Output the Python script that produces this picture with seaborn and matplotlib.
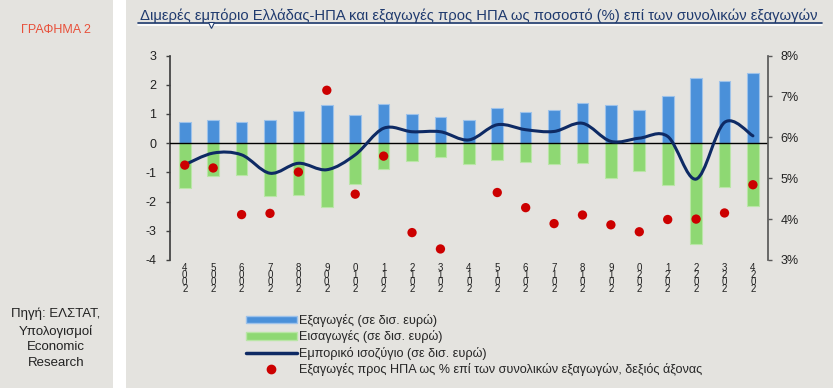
import numpy as np
import matplotlib.pyplot as plt
import seaborn as sns
from matplotlib.path import Path
from matplotlib.patches import PathPatch, Patch, Rectangle
from matplotlib.lines import Line2D

# data (δισ. ευρώ, % επί συνολικών εξαγωγών)
years = list(range(2004, 2025))
exports = [0.71, 0.78, 0.71, 0.80, 1.10, 1.29, 0.97, 1.35, 1.00, 0.90, 0.80,
           1.19, 1.08, 1.13, 1.38, 1.30, 1.13, 1.60, 2.22, 2.12, 2.39]
imports = [-1.54, -1.14, -1.10, -1.80, -1.76, -2.20, -1.39, -0.87, -0.61, -0.49, -0.70,
           -0.57, -0.63, -0.72, -0.68, -1.21, -0.97, -1.44, -3.44, -1.49, -2.16]
balance = [-0.74, -0.34, -0.40, -1.03, -0.69, -0.91, -0.40, 0.51, 0.39, 0.39, 0.11,
           0.63, 0.46, 0.40, 0.68, 0.06, 0.17, 0.23, -1.23, 0.71, 0.25]
us_share = [5.32, 5.25, 4.11, 4.14, 5.15, 7.15, 4.61, 5.54, 3.67, 3.27, np.nan,
            4.65, 4.28, 3.89, 4.10, 3.86, 3.69, 3.99, 4.00, 4.15, 4.84]

labels = ["Εξαγωγές (σε δισ. ευρώ)", "Εισαγωγές (σε δισ. ευρώ)",
          "Εμπορικό ισοζύγιο (σε δισ. ευρώ)",
          "Εξαγωγές προς ΗΠΑ ως % επί των συνολικών εξαγωγών, δεξιός άξονας"]
title = "Διμερές εμπόριο Ελλάδας-ΗΠΑ και εξαγωγές προς ΗΠΑ ως ποσοστό (%) επί των συνολικών εξαγωγών"

BG = "#E4E3DF"
BLUE = "#4A90D9"
GREEN = "#8ED873"
NAVY = "#0E2A64"
RED = "#CC0000"
TBLUE = "#1F3A6E"

sns.set_theme(style="white")
plt.rcParams['font.family'] = ['Liberation Sans', 'DejaVu Sans']
plt.rcParams['axes.unicode_minus'] = False

W, H = 833, 388
fig = plt.figure(figsize=(W / 100, H / 100), dpi=100)
fig.patch.set_facecolor(BG)
fig.add_artist(Rectangle((113 / W, 0), 13 / W, 1, transform=fig.transFigure,
                         facecolor="white", edgecolor="none"))

ax = fig.add_axes([170 / W, 1 - 260 / H, (767.7 - 170) / W, (260 - 55.5) / H])
ax.set_facecolor("none")
pos = np.arange(len(years))

sns.barplot(x=pos, y=exports, color=BLUE, saturation=1, width=0.41,
            edgecolor="#9DC2EA", linewidth=0.8, ax=ax)
sns.barplot(x=pos, y=imports, color=GREEN, saturation=1, width=0.41,
            edgecolor="#B9E6A6", linewidth=0.8, ax=ax)
ax.axhline(0, color="black", lw=1, zorder=3)

# smoothed line (Bezier through the points)
pts = np.column_stack([pos, balance])
n = len(pts)
verts = [pts[0]]
codes = [Path.MOVETO]
for i in range(n - 1):
    p0 = pts[i - 1] if i > 0 else pts[i]
    p3 = pts[i + 2] if i + 2 < n else pts[i + 1]
    verts += [pts[i] + (pts[i + 1] - p0) / 6, pts[i + 1] - (p3 - pts[i]) / 6, pts[i + 1]]
    codes += [Path.CURVE4] * 3
ax.add_patch(PathPatch(Path(verts, codes), fill=False, edgecolor=NAVY, lw=2.2,
                       zorder=4, capstyle="round"))

ax.set_xlim(-0.52, 20.52)
ax.set_ylim(-4, 3)
ax.set_yticks(range(-4, 4))
ax.set_xticks(pos)
ax.set_xticklabels(["\n".join(str(y)[::-1]) for y in years], fontsize=7,
                   linespacing=0.62, color="#222222")
ax.tick_params(axis="x", length=0, pad=2)
ax.tick_params(axis="y", left=True, direction="out", length=3, width=1,
               color="#404040", pad=7, labelsize=9, labelcolor="#222222")
for s in ["top", "right", "bottom"]:
    ax.spines[s].set_visible(False)
ax.spines["left"].set_color("#404040")
ax.set_xlabel("")
ax.set_ylabel("")

ax2 = ax.twinx()
sns.scatterplot(x=pos, y=us_share, color=RED, s=45, edgecolor="none", ax=ax2, zorder=5)
ax2.set_ylim(3, 8)
ax2.set_yticks(range(3, 9))
ax2.set_yticklabels([f"{v}%" for v in range(3, 9)])
ax2.tick_params(axis="y", right=True, direction="out", length=3, width=1,
                color="#595959", pad=6, labelsize=9, labelcolor="#222222")
for s in ["top", "left", "bottom"]:
    ax2.spines[s].set_visible(False)
ax2.spines["right"].set_color("#595959")
ax2.set_ylabel("")

handles = [Patch(facecolor=BLUE, edgecolor="#9DC2EA"),
           Patch(facecolor=GREEN, edgecolor="#B9E6A6"),
           Line2D([], [], color=NAVY, lw=2.5),
           Line2D([], [], marker="o", color=RED, ls="none", markersize=6)]
fig.legend(handles=handles, labels=labels, loc="upper left",
           bbox_to_anchor=(246 / W, 1 - 314 / H), frameon=False, fontsize=9.1,
           handlelength=4, handleheight=0.55, handletextpad=0.2,
           labelspacing=0.27, borderpad=0, borderaxespad=0)

# header
fig.text(140 / W, 1 - 16 / H, title, fontsize=10.6, color=TBLUE, va="center", ha="left")
fig.add_artist(Line2D([138 / W, 822 / W], [1 - 23 / H] * 2, transform=fig.transFigure,
                      color=TBLUE, lw=1.2))
fig.add_artist(Line2D([138 / W, 822 / W], [1 - 25 / H] * 2, transform=fig.transFigure,
                      color="white", lw=1.2))
fig.add_artist(Line2D([211 / W], [1 - 25 / H], transform=fig.transFigure, marker="v",
                      markersize=5, mfc="white", mec=TBLUE, mew=0.8))
fig.text(56 / W, 1 - 30 / H, "ΓΡΑΦΗΜΑ 2", fontsize=9, color="#E8503A",
         ha="center", va="center")
fig.text(56 / W, 1 - 338.5 / H, "Πηγή: ΕΛΣΤΑΤ,\nΥπολογισμοί\nEconomic\nResearch",
         fontsize=9.5, color="#222222", ha="center", va="center", linespacing=1.42)

fig.savefig("out.png", dpi=100, facecolor=fig.get_facecolor())
